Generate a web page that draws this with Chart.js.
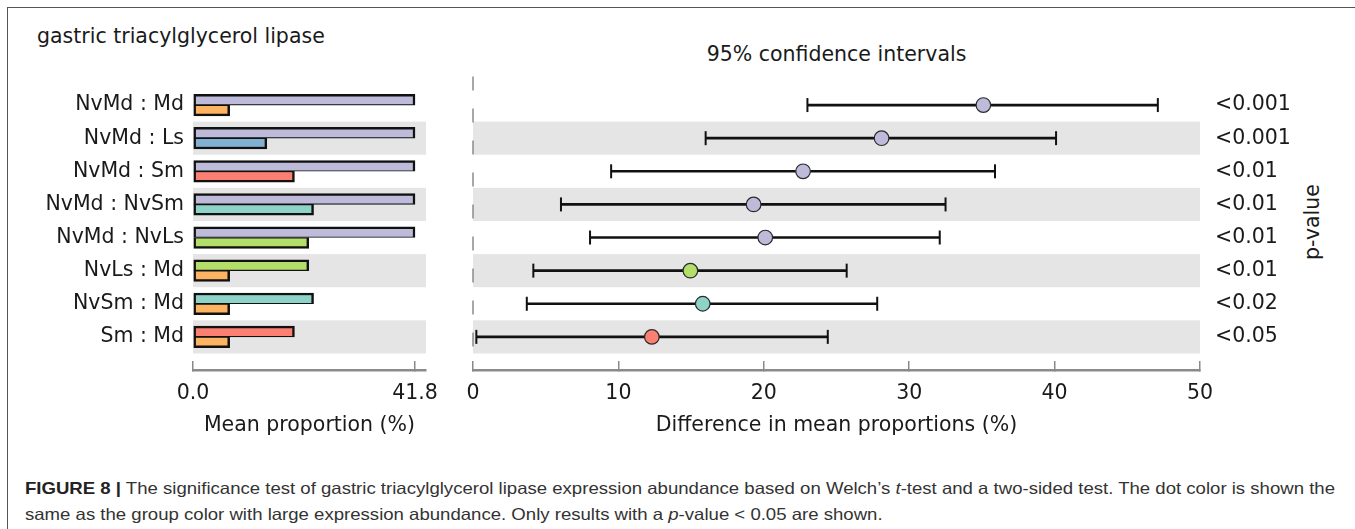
<!DOCTYPE html>
<html lang="en">
<head>
<meta charset="UTF-8">
<title>gastric triacylglycerol lipase</title>
<script src="https://cdn.jsdelivr.net/npm/chart.js"></script>
<style>
    body { margin: 0; background: #fff; }
    .fig { position: relative; width: 1355px; height: 529px; overflow: hidden; font-family: 'DejaVu Sans', sans-serif; color: #1a1a1a; }
    .frame { position: absolute; left: 7px; top: 7px; width: 1400px; height: 600px; border-left: 1.5px solid #555; border-top: 1.5px solid #555; }
    .gene { position: absolute; left: 37px; top: 23.5px; font-size: 20.5px; line-height: 24px; white-space: nowrap; }
    .ci-title { position: absolute; left: 836.5px; top: 41.5px; font-size: 20.5px; line-height: 24px; white-space: nowrap; transform: translateX(-50%); }
    .pval { position: absolute; left: 1312px; top: 222px; font-size: 20.5px; line-height: 24px; white-space: nowrap; transform: translate(-50%, -50%) rotate(-90deg); }
    #left { position: absolute; left: 0; top: 0; }
    #right { position: absolute; left: 450px; top: 0; }
    .caption { position: absolute; left: 25px; top: 475px; font-family: 'Liberation Sans', Arial, sans-serif; font-size: 16.5px; line-height: 26px; color: #333; white-space: nowrap; transform-origin: left top; }
    .caption b { color: #222; }
</style>
</head>
<body>
<div class="fig">
    <div class="frame"></div>
    <div class="gene">gastric triacylglycerol lipase</div>
    <div class="ci-title">95% confidence intervals</div>
    <div class="pval">p-value</div>
    <canvas id="left" width="445" height="450"></canvas>
    <canvas id="right" width="905" height="450"></canvas>
    <div class="caption" id="caption">
        <div id="capLine1"><b>FIGURE 8 |</b> The significance test of gastric triacylglycerol lipase expression abundance based on Welch’s <i>t</i>-test and a two-sided test. The dot color is shown the</div>
        <div>same as the group color with large expression abundance. Only results with a <i>p</i>-value &lt; 0.05 are shown.</div>
    </div>
</div>

<script>
    // comparisons, top to bottom
    const categories = ['NvMd : Md', 'NvMd : Ls', 'NvMd : Sm', 'NvMd : NvSm', 'NvMd : NvLs', 'NvLs : Md', 'NvSm : Md', 'Sm : Md'];
    const group1 = ['NvMd', 'NvMd', 'NvMd', 'NvMd', 'NvMd', 'NvLs', 'NvSm', 'Sm'];
    const group2 = ['Md', 'Ls', 'Sm', 'NvSm', 'NvLs', 'Md', 'Md', 'Md'];
    const mean1 = [41.8, 41.8, 41.8, 41.8, 41.8, 21.8, 22.7, 19.1];
    const mean2 = [6.9, 13.9, 19.1, 22.7, 21.8, 6.9, 6.9, 6.9];
    const diff = [35.1, 28.1, 22.7, 19.3, 20.1, 14.95, 15.8, 12.3];
    const ciLow = [23.0, 16.0, 9.5, 6.05, 8.05, 4.15, 3.7, 0.23];
    const ciHigh = [47.1, 40.1, 35.9, 32.5, 32.1, 25.7, 27.8, 24.4];
    const pValues = ['<0.001', '<0.001', '<0.01', '<0.01', '<0.01', '<0.01', '<0.02', '<0.05'];
    const meanTicks = [0, 41.8];
    const diffTicks = [0, 10, 20, 30, 40, 50];

    const groupColors = { NvMd: '#bebada', Md: '#fdb462', Ls: '#80b1d3', Sm: '#fb8072', NvSm: '#8dd3c7', NvLs: '#b3de69' };

    Chart.defaults.font.family = "'DejaVu Sans', sans-serif";
    Chart.defaults.font.size = 20.5;
    Chart.defaults.color = '#1a1a1a';

    const rowIdx = categories.map((c, i) => i);

    // grey band on every second row
    const bandsPlugin = {
        id: 'bands',
        beforeDatasetsDraw(chart) {
            const { ctx, chartArea, scales: { y } } = chart;
            ctx.save();
            ctx.fillStyle = '#e5e5e5';
            rowIdx.forEach(i => {
                if (i % 2 === 0) return;
                const top = y.getPixelForValue(i - 0.5);
                const bottom = y.getPixelForValue(i + 0.5);
                ctx.fillRect(chartArea.left, top, chartArea.right - chartArea.left, bottom - top);
            });
            ctx.restore();
        }
    };

    // dashed zero line and the caps of the intervals
    const ciPlugin = {
        id: 'ci',
        beforeDatasetsDraw(chart) {
            const { ctx, scales: { x, y } } = chart;
            const x0 = x.getPixelForValue(0);
            ctx.save();
            ctx.strokeStyle = '#8c8c8c';
            ctx.lineWidth = 1.5;
            ctx.setLineDash([14, 18]);
            ctx.beginPath();
            ctx.moveTo(x0, y.getPixelForValue(-0.5) - 12);
            ctx.lineTo(x0, y.getPixelForValue(7.5));
            ctx.stroke();
            ctx.restore();
        },
        afterDatasetsDraw(chart) {
            const { ctx, scales: { x, y } } = chart;
            ctx.save();
            ctx.strokeStyle = '#111';
            ctx.lineWidth = 2;
            rowIdx.forEach(i => {
                const py = y.getPixelForValue(i);
                [ciLow[i], ciHigh[i]].forEach(v => {
                    const px = x.getPixelForValue(v);
                    ctx.beginPath();
                    ctx.moveTo(px, py - 7);
                    ctx.lineTo(px, py + 7);
                    ctx.stroke();
                });
            });
            ctx.restore();
        }
    };

    const rowScale = {
        type: 'linear',
        reverse: true,
        min: -0.5,
        max: 8,
        offset: false,
        border: { display: false },
        grid: { display: false, drawTicks: false },
        afterBuildTicks: s => { s.ticks = rowIdx.map(i => ({ value: i })); },
        ticks: { autoSkip: false }
    };

    function valueAxis(min, max, tickValues, title, fmt) {
        return {
            type: 'linear',
            min: min,
            max: max,
            border: { display: true, color: '#8a8a8a', width: 2.5 },
            grid: { drawOnChartArea: false, drawTicks: true, tickLength: -9, color: '#8a8a8a', lineWidth: 1.5 },
            afterBuildTicks: s => { s.ticks = tickValues.map(v => ({ value: v })); },
            afterFit: s => { s.height = 80; s.paddingLeft = 0; s.paddingRight = 0; },
            ticks: { autoSkip: false, maxRotation: 0, padding: 20.7, callback: fmt },
            title: { display: true, text: title, padding: { top: 0, bottom: 11.7 } }
        };
    }

    new Chart(document.getElementById('left'), {
        type: 'bar',
        data: {
            datasets: [{
                data: mean1.map((v, i) => ({ x: v, y: i })),
                backgroundColor: group1.map(g => groupColors[g]),
                borderColor: '#111',
                borderWidth: { top: 2.5, left: 2.5, right: 2.5, bottom: 1.2 },
                borderSkipped: false,
                barThickness: 10.8
            }, {
                data: mean2.map((v, i) => ({ x: v, y: i })),
                backgroundColor: group2.map(g => groupColors[g]),
                borderColor: '#111',
                borderWidth: { top: 1.2, left: 2.5, right: 2.5, bottom: 2.5 },
                borderSkipped: false,
                barThickness: 10.8
            }]
        },
        options: {
            indexAxis: 'y',
            responsive: false,
            animation: false,
            events: [],
            layout: { padding: { top: 88.5, right: 19, bottom: 0, left: 0 } },
            plugins: { legend: { display: false }, tooltip: { enabled: false } },
            scales: {
                x: valueAxis(0, 41.8 * 233 / 222, meanTicks, 'Mean proportion (%)', v => v.toFixed(1)),
                y: Object.assign({}, rowScale, {
                    position: 'left',
                    afterFit: s => { s.width = 193; },
                    ticks: { autoSkip: false, padding: 9, callback: v => categories[v] }
                })
            }
        },
        plugins: [bandsPlugin]
    });

    new Chart(document.getElementById('right'), {
        type: 'bar',
        data: {
            datasets: [{
                type: 'scatter',
                order: 0,
                data: diff.map((v, i) => ({ x: v, y: i })),
                pointRadius: 7.3,
                pointBackgroundColor: group1.map(g => groupColors[g]),
                pointBorderColor: '#2a2a2a',
                pointBorderWidth: 1.2
            }, {
                order: 1,
                data: ciLow.map((v, i) => ({ x: [v, ciHigh[i]], y: i })),
                backgroundColor: '#111',
                borderWidth: 0,
                barThickness: 2,
                grouped: false
            }]
        },
        options: {
            indexAxis: 'y',
            responsive: false,
            animation: false,
            events: [],
            layout: { padding: { top: 88.5, right: 0, bottom: 0, left: 23 } },
            plugins: { legend: { display: false }, tooltip: { enabled: false } },
            scales: {
                x: valueAxis(0, 50, diffTicks, 'Difference in mean proportions (%)', v => String(v)),
                y: Object.assign({}, rowScale, {
                    position: 'right',
                    afterFit: s => { s.width = 155; },
                    ticks: { autoSkip: false, padding: 15, callback: v => pValues[v] }
                })
            }
        },
        plugins: [bandsPlugin, ciPlugin]
    });

    // stretch the caption so its first line spans the same width as in the figure
    const cap = document.getElementById('caption');
    const line1 = document.getElementById('capLine1');
    const range = document.createRange();
    range.selectNodeContents(line1);
    const textW = range.getBoundingClientRect().width || line1.getBoundingClientRect().width;
    cap.style.transform = 'scaleX(' + (1310 / textW) + ')';
</script>
</body>
</html>
